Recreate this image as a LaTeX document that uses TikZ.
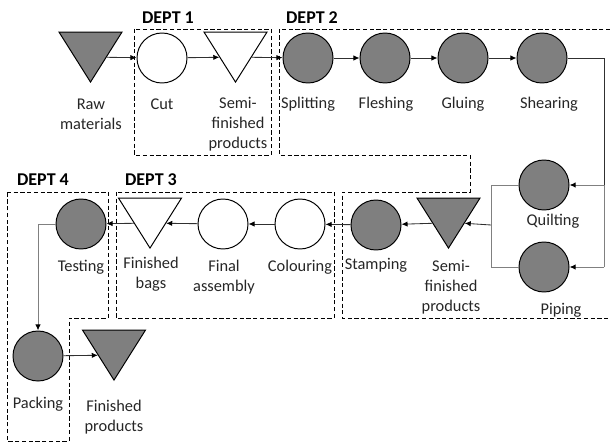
\documentclass[tikz,border=0pt]{standalone}
\usepackage{fontspec}
\setmainfont{Carlito}
\usetikzlibrary{shapes.geometric, arrows.meta}

\tikzset{
	proc/.style = {circle, draw = black, line width = 0.7pt, minimum size = 12.5mm, inner sep = 0mm},
	worker/.style = {proc, fill = fillgray},
	store/.style = {isosceles triangle, isosceles triangle apex angle = 64.4, shape border rotate = -90,
		draw = black, line width = 0.7pt, minimum height = 12.5mm, inner sep = 0mm, anchor = apex},
	stock/.style = {store, fill = fillgray},
	dept/.style = {draw = black, line width = 0.7pt, dash pattern = on 3pt off 1.8pt},
	conn/.style = {draw = linegray, line width = 0.6pt},
	soft/.style = {draw = softgray, line width = 0.7pt},
	tip/.style = {-{Latex[length = 4.3pt, width = 3.8pt, black]}},
	flow/.style = {conn, tip},
	softflow/.style = {soft, tip},
	caption/.style = {font = \fontsize{11.65}{14.2}\selectfont, text = textgray, align = center, inner sep = 0mm},
	depthead/.style = {font = \fontsize{12.8}{15}\selectfont\bfseries, text = black, inner sep = 0mm}
}
\definecolor{fillgray}{HTML}{7F7F7F}
\definecolor{linegray}{HTML}{303030}
\definecolor{softgray}{HTML}{808080}
\definecolor{textgray}{HTML}{262626}

\begin{document}
\begin{tikzpicture}[x = 0.25mm, y = -0.25mm]
	\useasboundingbox (0,0) rectangle (610,442);

% Abteilungen
\draw[dept] (134,29) rectangle (271,155);
\draw[dept] (610,29) -- (279,29) -- (279,155) -- (470,155) -- (470,192) -- (342,192) -- (342,318) -- (610,318);
\draw[dept] (116,192) rectangle (334,318);
\draw[dept] (7,192) -- (108,192) -- (108,318) -- (69,318) -- (69,441) -- (7,441) -- cycle;

\node[depthead] (deptA) at (168,18) {DEPT 1};
\node[depthead] (deptB) at (312,18) {DEPT 2};
\node[depthead] (deptC) at (151,180) {DEPT 3};
\node[depthead] (deptD) at (43,180) {DEPT 4};

% Symbole
\node[stock] (raw) at (90.5,83) {};
\node[proc] (cut) at (162,58) {};
\node[store] (semiA) at (235.5,83) {};
\node[worker] (splitting) at (308,58) {};
\node[worker] (fleshing) at (385,58) {};
\node[worker] (gluing) at (463,58) {};
\node[worker] (shearing) at (542,58) {};
\node[worker] (quilting) at (544,185) {};
\node[worker] (piping) at (544,267) {};
\node[stock] (semiB) at (448.5,249) {};
\node[worker] (stamping) at (376,225) {};
\node[proc] (colouring) at (300,224) {};
\node[proc] (assembly) at (223,224) {};
\node[store] (bags) at (150,249) {};
\node[worker] (testing) at (81,224) {};
\node[worker] (packing) at (38,356) {};
\node[stock] (products) at (114,381) {};

% Hilfspunkte
\coordinate (railtop) at (604,58);
\coordinate (railq) at (604,185);
\coordinate (railp) at (604,267);
\coordinate (joinq) at (491,185);
\coordinate (join) at (491,225);
\coordinate (joinp) at (491,267);

% Verbindungen
\draw[flow] (raw.left side) -- (cut);
\draw[flow] (cut) -- (semiA.right side);
\draw[flow] (semiA.left side) -- (splitting);
\draw[flow] (splitting) -- (fleshing);
\draw[flow] (fleshing) -- (gluing);
\draw[flow] (gluing) -- (shearing);
\draw[conn] (shearing) -- (railtop) -- (railq);
\draw[softflow] (railq) -- (quilting);
\draw[soft] (railq) -- (railp);
\draw[softflow] (railp) -- (piping);
\draw[soft] (quilting) -- (joinq) -- (joinp) -- (piping);
\draw[flow] (join) -- (semiB.left side);
\draw[flow] (semiB.right side) -- (stamping);
\draw[flow] (stamping) -- (colouring);
\draw[flow] (colouring) -- (assembly);
\draw[flow] (assembly) -- (bags.left side);
\draw[flow] (bags.right side) -- (testing);
\draw[softflow] (testing) -| (packing);
\draw[flow] (packing) -- (products.right side);

% Beschriftung
\node[caption] (rawtext) at (91,114) {Raw\\materials};
\node[caption] (cuttext) at (162,104) {Cut};
\node[caption] (semiAtext) at (238,124) {Semi-\\finished\\products};
\node[caption] (splittingtext) at (308,104) {Splitting};
\node[caption] (fleshingtext) at (386,104) {Fleshing};
\node[caption] (gluingtext) at (463,104) {Gluing};
\node[caption] (shearingtext) at (549,104) {Shearing};
\node[caption] (quiltingtext) at (553,221) {Quilting};
\node[caption] (pipingtext) at (561,310) {Piping};
\node[caption] (stampingtext) at (376,265) {Stamping};
\node[caption] (semiBtext) at (451,287) {Semi-\\finished\\products};
\node[caption] (colouringtext) at (300,267) {Colouring};
\node[caption] (assemblytext) at (224,277) {Final\\assembly};
\node[caption] (bagstext) at (151,274) {Finished\\bags};
\node[caption] (testingtext) at (81,267) {Testing};
\node[caption] (packingtext) at (38,404) {Packing};
\node[caption] (productstext) at (114,417) {Finished\\products};

	\end{tikzpicture}
\end{document}
